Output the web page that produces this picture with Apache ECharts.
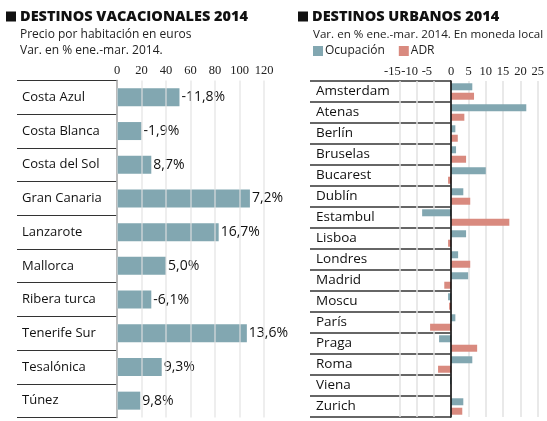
<!DOCTYPE html>
<html>
<head>
<meta charset="utf-8">
<script src="https://cdn.jsdelivr.net/npm/echarts@6/dist/echarts.min.js"></script>
<style>
  html, body { margin: 0; padding: 0; background: #fff; }
  #chart { width: 547px; height: 421px; }
</style>
</head>
<body>
<div id="chart"></div>
<script>
// Destinos vacacionales: precio por habitación (euros) y variación
var vacCats = ['Costa Azul', 'Costa Blanca', 'Costa del Sol', 'Gran Canaria', 'Lanzarote',
  'Mallorca', 'Ribera turca', 'Tenerife Sur', 'Tesalónica', 'Túnez']
var vacPrecio = [51, 20, 28, 108.5, 83, 40, 28, 106, 36.5, 19]
var vacVar = ['-11,8%', '-1,9%', '8,7%', '7,2%', '16,7%', '5,0%', '-6,1%', '13,6%', '9,3%', '9,8%']

// Destinos urbanos: var. en % de ocupación y ADR
var urbCats = ['Amsterdam', 'Atenas', 'Berlín', 'Bruselas', 'Bucarest', 'Dublín', 'Estambul', 'Lisboa',
  'Londres', 'Madrid', 'Moscu', 'París', 'Praga', 'Roma', 'Viena', 'Zurich']
var urbOcupacion = [6.1, 21.7, 1.2, 1.4, 10.0, 3.5, -8.4, 4.3, 2.0, 4.9, -0.9, 1.2, -3.5, 6.1, -0.3, 3.5]
var urbADR = [6.6, 3.8, 1.9, 4.3, -0.9, 5.5, 16.8, -0.9, 5.5, -2.0, -0.6, -6.1, 7.5, -3.8, 0, 3.2]

var FONT = 'Open Sans'
var TICKFONT = 'Liberation Sans Narrow'
var TEAL = '#82a7b1'
var SALMON = '#d98a7f'

var chart = echarts.init(document.getElementById('chart'))

function titleBlock(left, text) {
  return {
    left: left, top: 9, padding: 0,
    text: '{sq|}{t|' + text + '}',
    textStyle: {
      rich: {
        sq: { backgroundColor: '#111', width: 10, height: 10 },
        t: { fontFamily: FONT, fontSize: 14.5, fontWeight: 800, color: '#111', padding: [0, 0, 0, 4] }
      }
    }
  }
}

function subText(left, top, text, size) {
  return {
    left: left, top: top, text: text, padding: 0,
    textStyle: { fontFamily: FONT, fontSize: size || 12, fontWeight: 'normal', color: '#222' }
  }
}

var tickRich = {
  p: { fontFamily: TICKFONT, fontSize: 12.5, color: '#222' },
  n: { fontFamily: TICKFONT, fontSize: 12.5, color: '#222', padding: [0, 14, 0, 0] }
}

var option = {
  animation: false,
  title: [
    titleBlock(6, 'DESTINOS VACACIONALES 2014'),
    subText(20, 29, 'Precio por habitación en euros'),
    subText(20, 45, 'Var. en % ene.-mar. 2014.'),
    titleBlock(298, 'DESTINOS URBANOS 2014'),
    subText(313, 29, 'Var. en % ene.-mar. 2014. En moneda local', 11.6)
  ],
  legend: {
    left: 313, top: 45, padding: 0,
    data: ['Ocupación', 'ADR'],
    icon: 'rect',
    itemWidth: 10, itemHeight: 10, itemGap: 14,
    textStyle: { fontFamily: FONT, fontSize: 12, color: '#222', padding: [0, 0, 0, -3] }
  },
  grid: [
    // columna de nombres (izq)
    { left: 17, width: 100, top: 80.5, height: 337, outerBoundsMode: 'none' },
    // barras (izq)
    { left: 117, width: 147, top: 80.5, height: 337, outerBoundsMode: 'none' },
    // columna de nombres (der)
    { left: 310, width: 141, top: 81, height: 336, outerBoundsMode: 'none' },
    // barras (der)
    { left: 399.3, width: 138.4, top: 81, height: 336, outerBoundsMode: 'none' }
  ],
  xAxis: [
    { gridIndex: 0, type: 'value', show: false },
    {
      gridIndex: 1, type: 'value', position: 'top', min: 0, max: 120, interval: 20, z: 3,
      axisLine: { show: false }, axisTick: { show: false },
      axisLabel: { fontFamily: TICKFONT, fontSize: 12.5, color: '#222', margin: 3 },
      splitLine: { lineStyle: { color: 'rgba(225,225,225,0.75)', width: 1.5 } }
    },
    { gridIndex: 2, type: 'value', show: false },
    {
      gridIndex: 3, type: 'value', position: 'top', min: -15, max: 25, interval: 5,
      axisLine: { show: false }, axisTick: { show: false },
      axisLabel: {
        margin: 3, rich: tickRich,
        formatter: function (v) { return v < 0 ? '{n|' + v + '}' : '{p|' + v + '}' }
      },
      splitLine: { lineStyle: { color: '#e2e2e2', width: 1.5 } }
    }
  ],
  yAxis: [
    {
      gridIndex: 0, type: 'category', data: vacCats, inverse: true,
      axisLine: { show: false }, axisTick: { show: false },
      axisLabel: { inside: true, margin: 5, fontFamily: FONT, fontSize: 13, color: '#111' },
      splitLine: { show: true, interval: 0, lineStyle: { color: '#333', width: 1.2 } }
    },
    {
      gridIndex: 1, type: 'category', data: vacCats, inverse: true,
      axisLine: { lineStyle: { color: '#666', width: 1.5 } },
      axisTick: { show: false }, axisLabel: { show: false }
    },
    {
      gridIndex: 2, type: 'category', data: urbCats, inverse: true,
      axisLine: { show: false }, axisTick: { show: false },
      axisLabel: { inside: true, margin: 6, fontFamily: FONT, fontSize: 13.5, color: '#111' },
      splitLine: { show: true, interval: 0, lineStyle: { color: '#666', width: 2 } }
    },
    {
      gridIndex: 3, type: 'category', data: urbCats, inverse: true, z: 4,
      axisLine: { onZero: true, lineStyle: { color: '#000', width: 1.5 } },
      axisTick: { show: false }, axisLabel: { show: false }
    }
  ],
  series: [
    {
      name: 'Precio', type: 'bar', xAxisIndex: 1, yAxisIndex: 1,
      data: vacPrecio, barWidth: 18,
      itemStyle: { color: TEAL },
      label: {
        show: true, position: 'right', distance: 2,
        fontFamily: FONT, fontSize: 14, color: '#111',
        formatter: function (p) { return vacVar[p.dataIndex] }
      }
    },
    {
      name: 'Ocupación', type: 'bar', xAxisIndex: 3, yAxisIndex: 3,
      data: urbOcupacion, barWidth: 7, barGap: '35%',
      itemStyle: { color: TEAL }
    },
    {
      name: 'ADR', type: 'bar', xAxisIndex: 3, yAxisIndex: 3,
      data: urbADR, barWidth: 7, barGap: '35%',
      itemStyle: { color: SALMON }
    }
  ]
}

chart.setOption(option)
</script>
</body>
</html>
